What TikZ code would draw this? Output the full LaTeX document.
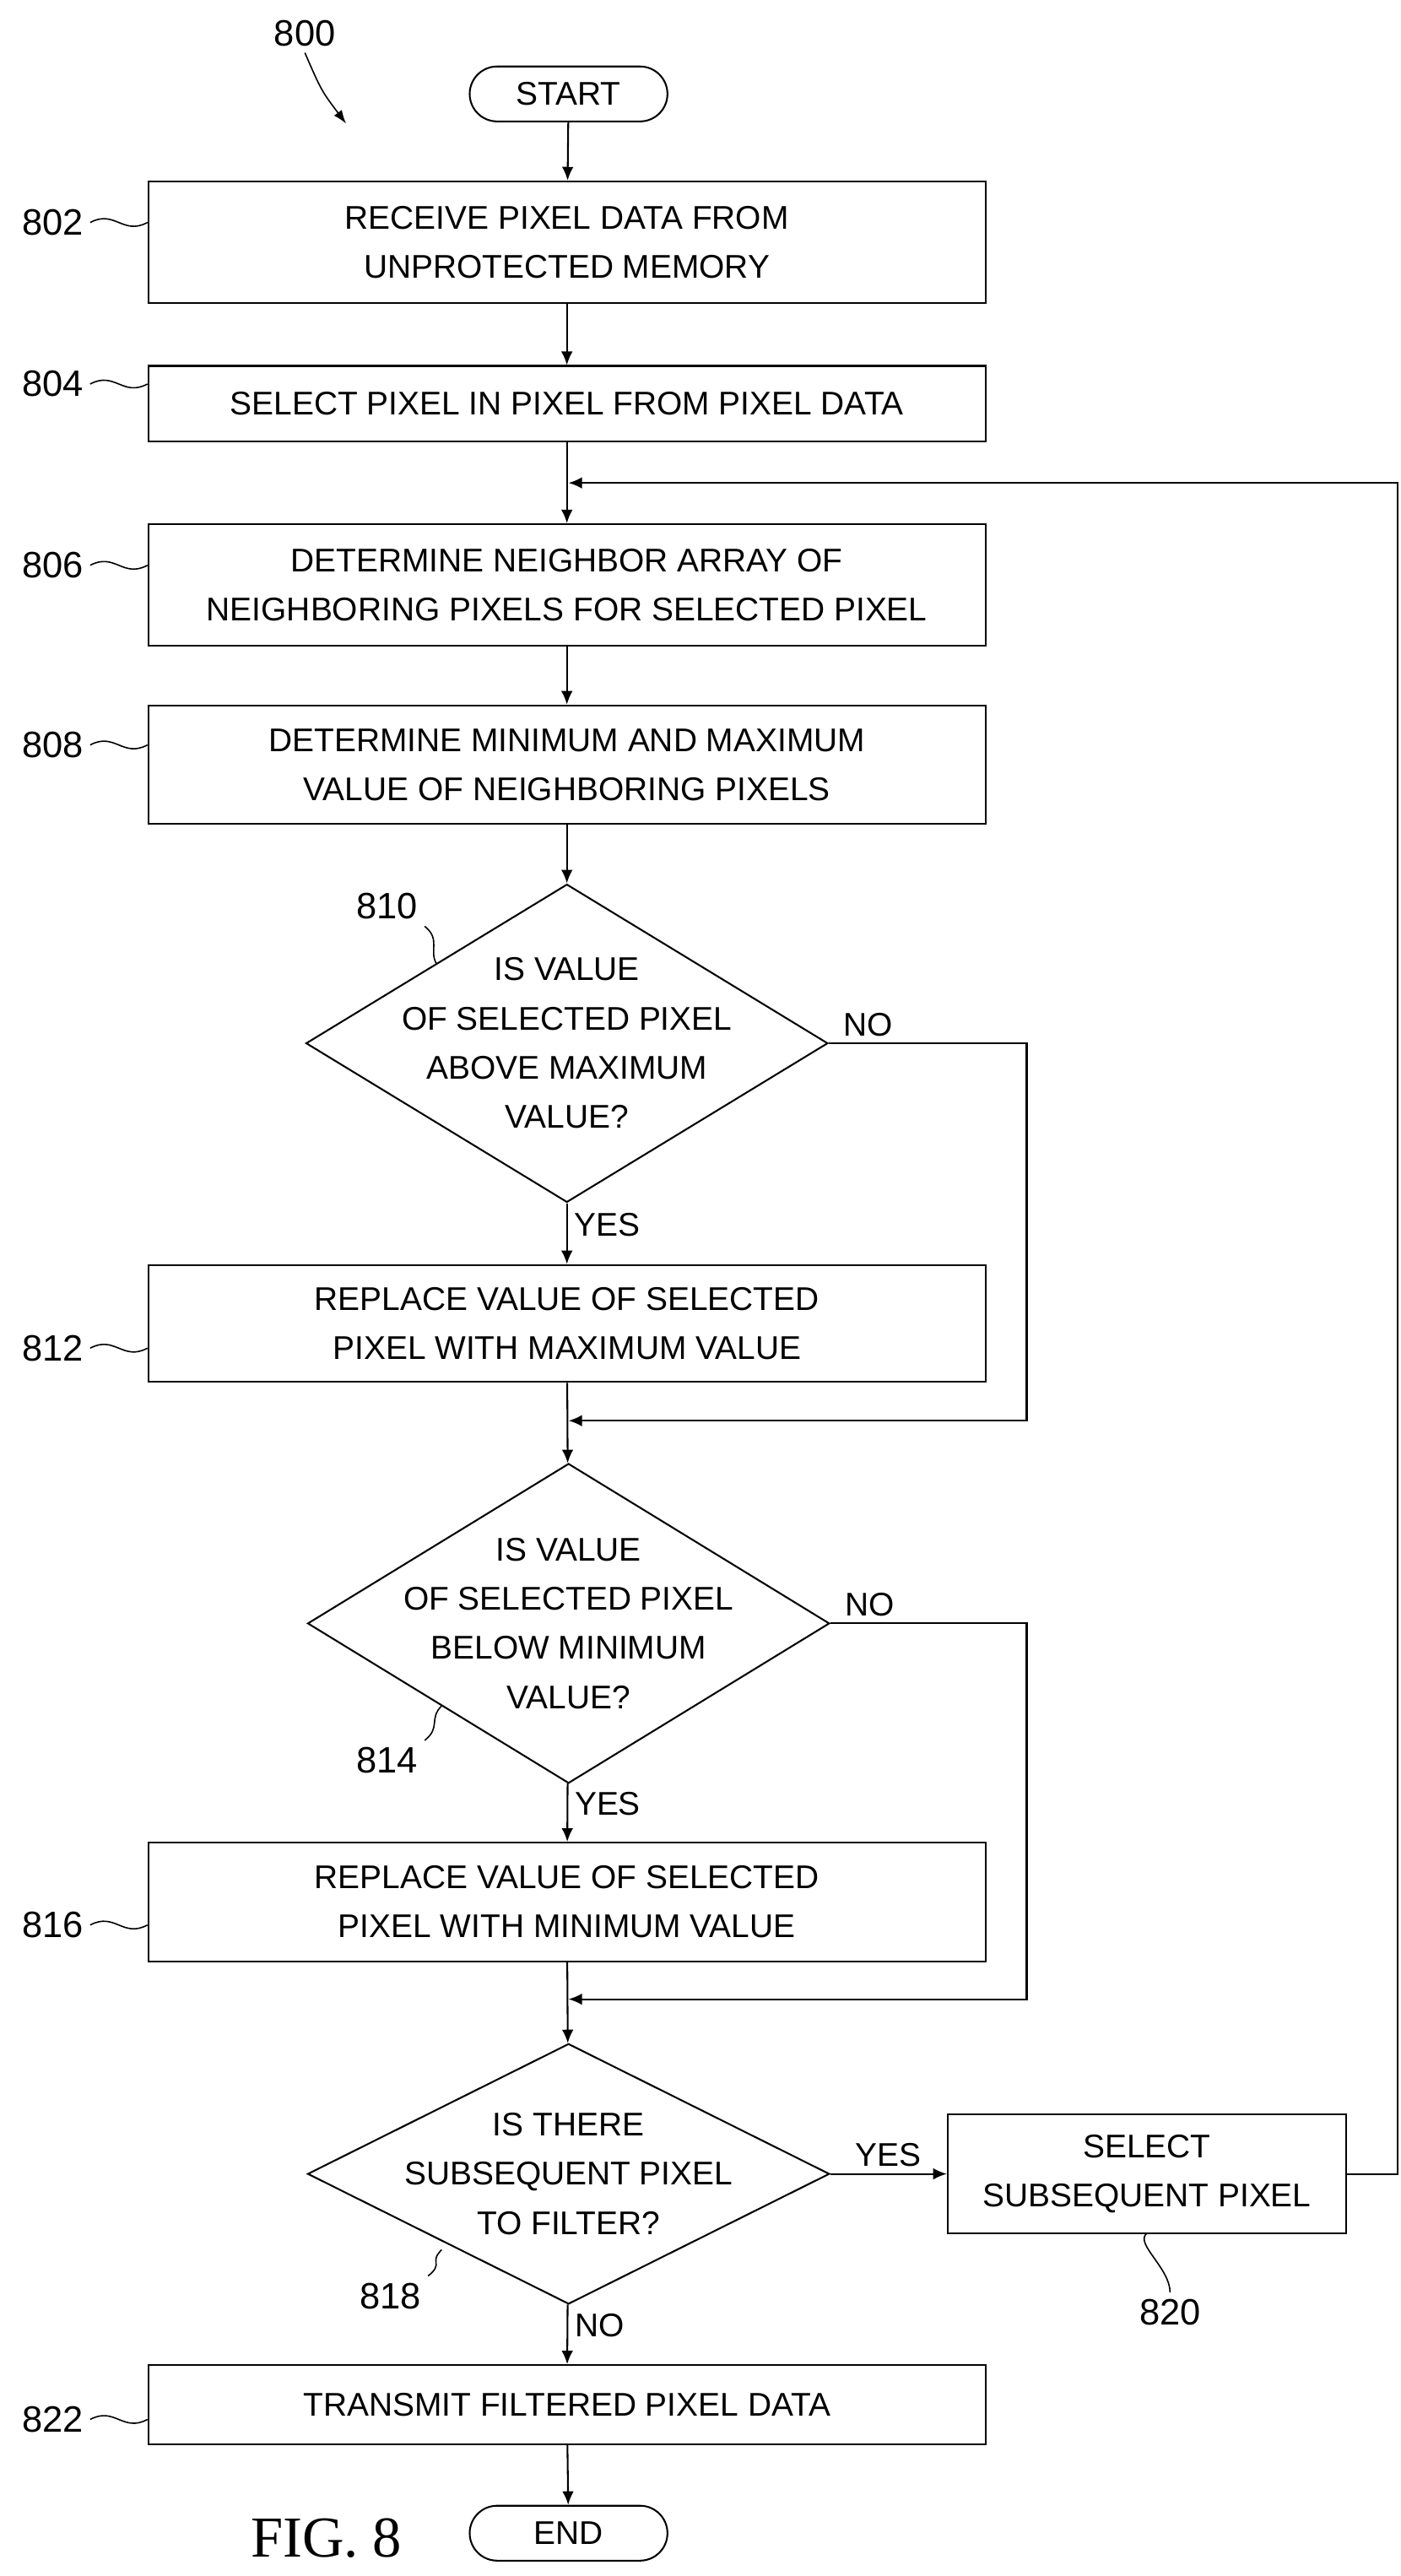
\documentclass[tikz,border=0pt]{standalone}
\usepackage{fontspec}
\setmainfont{Liberation Sans}
\newfontfamily\figfont{Liberation Serif}
\usetikzlibrary{arrows.meta}
\usetikzlibrary{positioning}
\usetikzlibrary{shapes.geometric}

\begin{document}
\begin{tikzpicture}[x=0.03cm, y=-0.03cm, font=\fontsize{17}{25.5}\selectfont,
	box/.style={rectangle, draw, line width=0.9pt, minimum width=15.24cm, align=center, inner sep=0pt},
	term/.style={rectangle, rounded corners=0.5cm, draw, line width=0.9pt, minimum width=3.6cm, minimum height=1.0cm},
	dec/.style={diamond, draw, line width=0.9pt, inner sep=0pt, minimum width=9.5cm},
	ref/.style={font=\fontsize{19}{22}\selectfont},
	flow/.style={-{Latex[length=7pt,width=6pt]}, line width=0.9pt},
	tilde/.style={line width=0.7pt}]
	\useasboundingbox (0,0) rectangle (850,1563);
	% terminals
	\node[term] (start) at (345,57) {START};
	\node[term] (end) at (345,1537) {END};
	% process boxes
	\node[box, minimum height=2.22cm] (b802) at (344,147) {RECEIVE PIXEL DATA FROM\\UNPROTECTED MEMORY};
	\node[box, minimum height=1.38cm] (b804) at (344,245) {SELECT PIXEL IN PIXEL FROM PIXEL DATA};
	\node[box, minimum height=2.22cm] (b806) at (344,355) {DETERMINE NEIGHBOR ARRAY OF\\NEIGHBORING PIXELS FOR SELECTED PIXEL};
	\node[box, minimum height=2.16cm] (b808) at (344,464) {DETERMINE MINIMUM AND MAXIMUM\\VALUE OF NEIGHBORING PIXELS};
	\node[box, minimum height=2.13cm] (b812) at (344,803) {REPLACE VALUE OF SELECTED\\PIXEL WITH MAXIMUM VALUE};
	\node[box, minimum height=2.16cm] (b816) at (344,1154) {REPLACE VALUE OF SELECTED\\PIXEL WITH MINIMUM VALUE};
	\node[box, minimum height=1.44cm] (b822) at (344,1459) {TRANSMIT FILTERED PIXEL DATA};
	\node[box, minimum width=7.26cm, minimum height=2.16cm] (b820) at (696,1319) {SELECT\\SUBSEQUENT PIXEL};
	% decisions
	\node[dec, minimum height=5.79cm, label={[align=center]center:IS VALUE\\OF SELECTED PIXEL\\ABOVE MAXIMUM\\VALUE?}] (d810) at (344,633) {};
	\node[dec, minimum height=5.82cm, label={[align=center]center:IS VALUE\\OF SELECTED PIXEL\\BELOW MINIMUM\\VALUE?}] (d814) at (345,985) {};
	\node[dec, minimum height=4.74cm, label={[align=center]center:IS THERE\\SUBSEQUENT PIXEL\\TO FILTER?}] (d818) at (345,1319) {};
	% junctions
	\coordinate (j806) at (345,293);
	\coordinate (j814) at (345,862);
	\coordinate (j818) at (345,1213);
	\coordinate (r810) at (623,633);
	\coordinate (r814) at (623,985);
	\coordinate (r820) at (848,1319);
	% main flow
	\draw[flow] (start) -- (b802);
	\draw[flow] (b802) -- (b804);
	\draw[flow] (b804) -- (b806);
	\draw[flow] (b806) -- (b808);
	\draw[flow] (b808) -- (d810);
	\draw[flow] (d810) -- node[right, pos=0.35] {YES} (b812);
	\draw[flow] (b812) -- (d814);
	\draw[flow] (d814) -- node[right, pos=0.35] {YES} (b816);
	\draw[flow] (b816) -- (d818);
	\draw[flow] (d818) -- node[right, pos=0.35] {NO} (b822);
	\draw[flow] (b822) -- (end);
	\draw[flow] (d818) -- node[above] {YES} (b820);
	% bypass and loop
	\draw[flow] (d810.east) -- node[above, pos=0.2] {NO} (r810) |- (j814);
	\draw[flow] (d814.east) -- node[above, pos=0.2] {NO} (r814) |- (j818);
	\draw[flow] (b820.east) -- (r820) |- (j806);
	% reference numerals
	\node[ref] (l800) at (185,20) {800};
	\node[ref] (l802) at (32,135) {802};
	\node[ref] (l804) at (32,233) {804};
	\node[ref] (l806) at (32,343) {806};
	\node[ref] (l808) at (32,452) {808};
	\node[ref] (l810) at (235,550) {810};
	\node[ref] (l812) at (32,818) {812};
	\node[ref] (l814) at (235,1068) {814};
	\node[ref] (l816) at (32,1168) {816};
	\node[ref] (l818) at (237,1393) {818};
	\node[ref] (l820) at (710,1403) {820};
	\node[ref] (l822) at (32,1468) {822};
	\node[font=\figfont\fontsize{30}{34}\selectfont] (fig) at (198,1540) {FIG. 8};
	\draw[-{Latex[length=7pt,width=5pt]}, line width=0.7pt] (l800.south) .. controls (195,55) .. (210,75);
	\foreach \n in {802,804,806,808,812,816,822}
		\draw[tilde] (l\n.east) .. controls +(15,-8) and +(-15,8) .. (b\n.west |- l\n.east);
	\draw[tilde] (l810.south east) .. controls +(10,8) and +(-5,-8) .. (265,585);
	\draw[tilde] (l814.north east) .. controls +(10,-8) and +(-8,8) .. (268,1035);
	\draw[tilde] (l818.north east) .. controls +(10,-8) and +(-8,8) .. (268,1365);
	\draw[tilde] (l820.north) .. controls +(0,-15) and +(-8,6) .. (696,1355);
\end{tikzpicture}
\end{document}
